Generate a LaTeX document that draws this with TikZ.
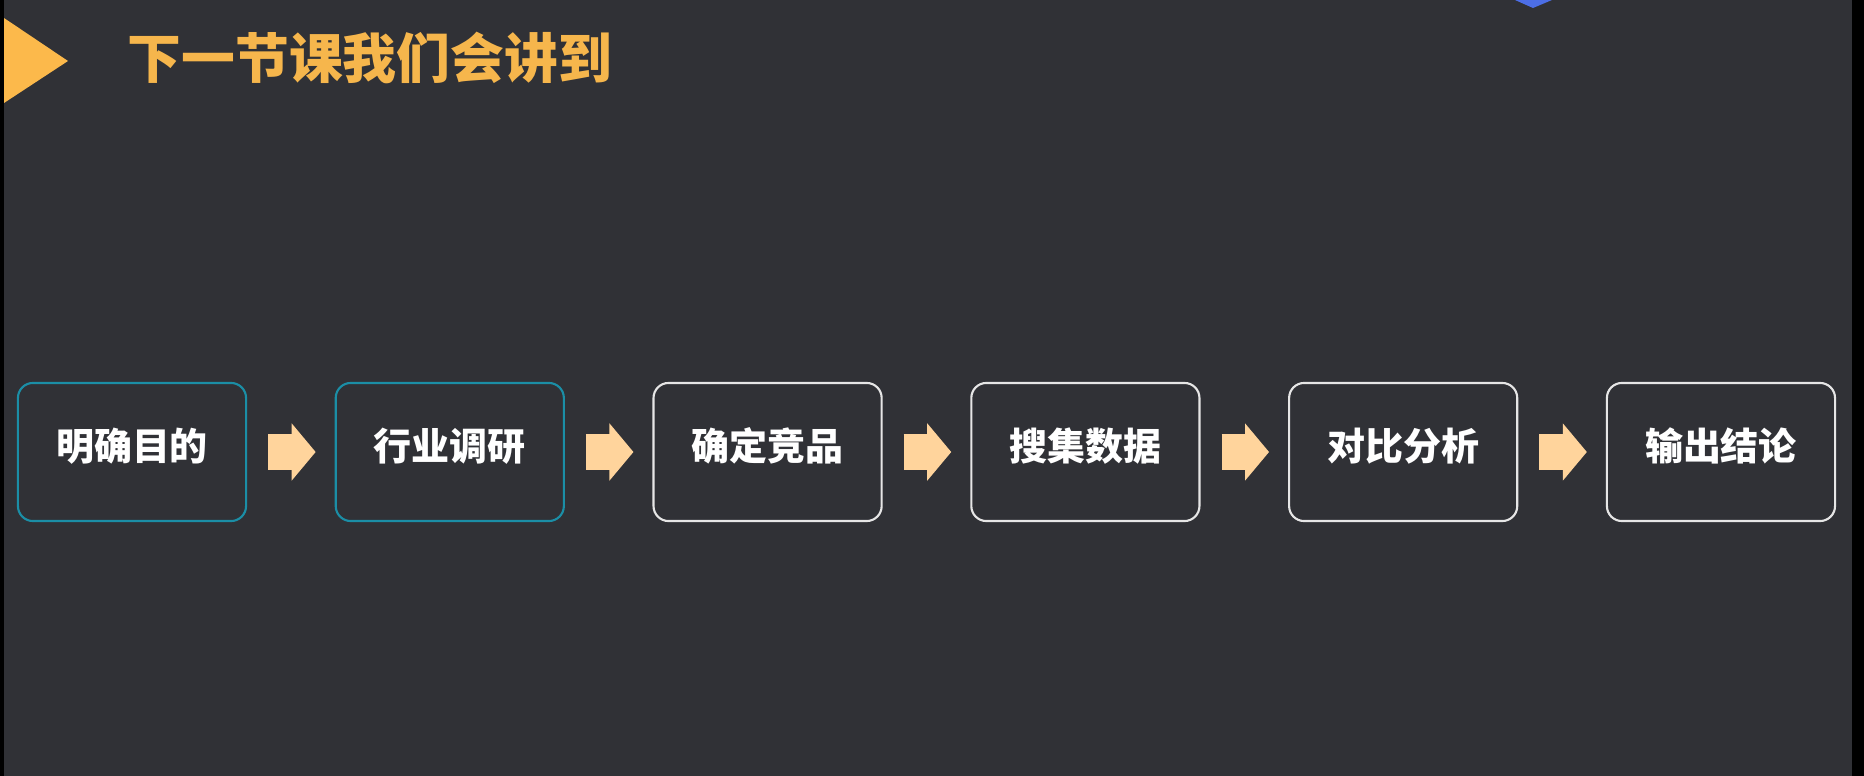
\documentclass[tikz,border=0pt]{standalone}
\usepackage{fontspec}
\setmainfont{Noto Sans CJK SC}
\usetikzlibrary{positioning,arrows.meta}

\definecolor{bgc}{HTML}{303136}
\definecolor{titlec}{HTML}{F6B64C}
\definecolor{markc}{HTML}{FCB94B}
\definecolor{arrowc}{HTML}{FFD49C}
\definecolor{tealc}{HTML}{1B8EA6}
\definecolor{linec}{HTML}{E6E6E6}
\definecolor{tipblue}{HTML}{4C6EE6}

\begin{document}
\begin{tikzpicture}[x=0.01cm,y=-0.01cm,
  stepbox/.style={draw=linec,line width=0.6pt,rounded corners=0.15cm,fill=bgc,
                  minimum width=2.28cm,minimum height=1.38cm,inner sep=0pt,
                  text depth=0.15cm,
                  font=\fontsize{10.8pt}{13pt}\selectfont\bfseries,text=white},
  firstbox/.style={stepbox,draw=tealc},
  title/.style={font=\fontsize{15.3pt}{18pt}\selectfont\bfseries,text=titlec,inner sep=0pt},
  blockarr/.style={draw=arrowc,line width=0.35cm,
                   -{Triangle[width=0.56cm,length=0.24cm]},
                   shorten <=0.21cm,shorten >=0.19cm},
]

% Background
\useasboundingbox (0,0) rectangle (1864,776);
\fill[bgc] (0,0) rectangle (1864,776);
\fill[black] (0,0) rectangle (4,776);
\fill[black] (1852,0) rectangle (1864,776);
\fill[tipblue] (1515,0) -- (1533,8) -- (1552,0) -- cycle;

% Title + marker
\fill[markc] (4,18) -- (68,61) -- (4,103) -- cycle;
\node[title,anchor=west] (T) at (127,58) {下一节课我们会讲到};

% Steps
\node[firstbox] (S1) at (132,452) {明确目的};
\node[firstbox,right=0.875cm of S1] (S2) {行业调研};
\node[stepbox,right=0.875cm of S2] (S3) {确定竞品};
\node[stepbox,right=0.875cm of S3] (S4) {搜集数据};
\node[stepbox,right=0.875cm of S4] (S5) {对比分析};
\node[stepbox,right=0.875cm of S5] (S6) {输出结论};

% Arrows
\draw[blockarr] (S1) -- (S2);
\draw[blockarr] (S2) -- (S3);
\draw[blockarr] (S3) -- (S4);
\draw[blockarr] (S4) -- (S5);
\draw[blockarr] (S5) -- (S6);

\end{tikzpicture}
\end{document}
